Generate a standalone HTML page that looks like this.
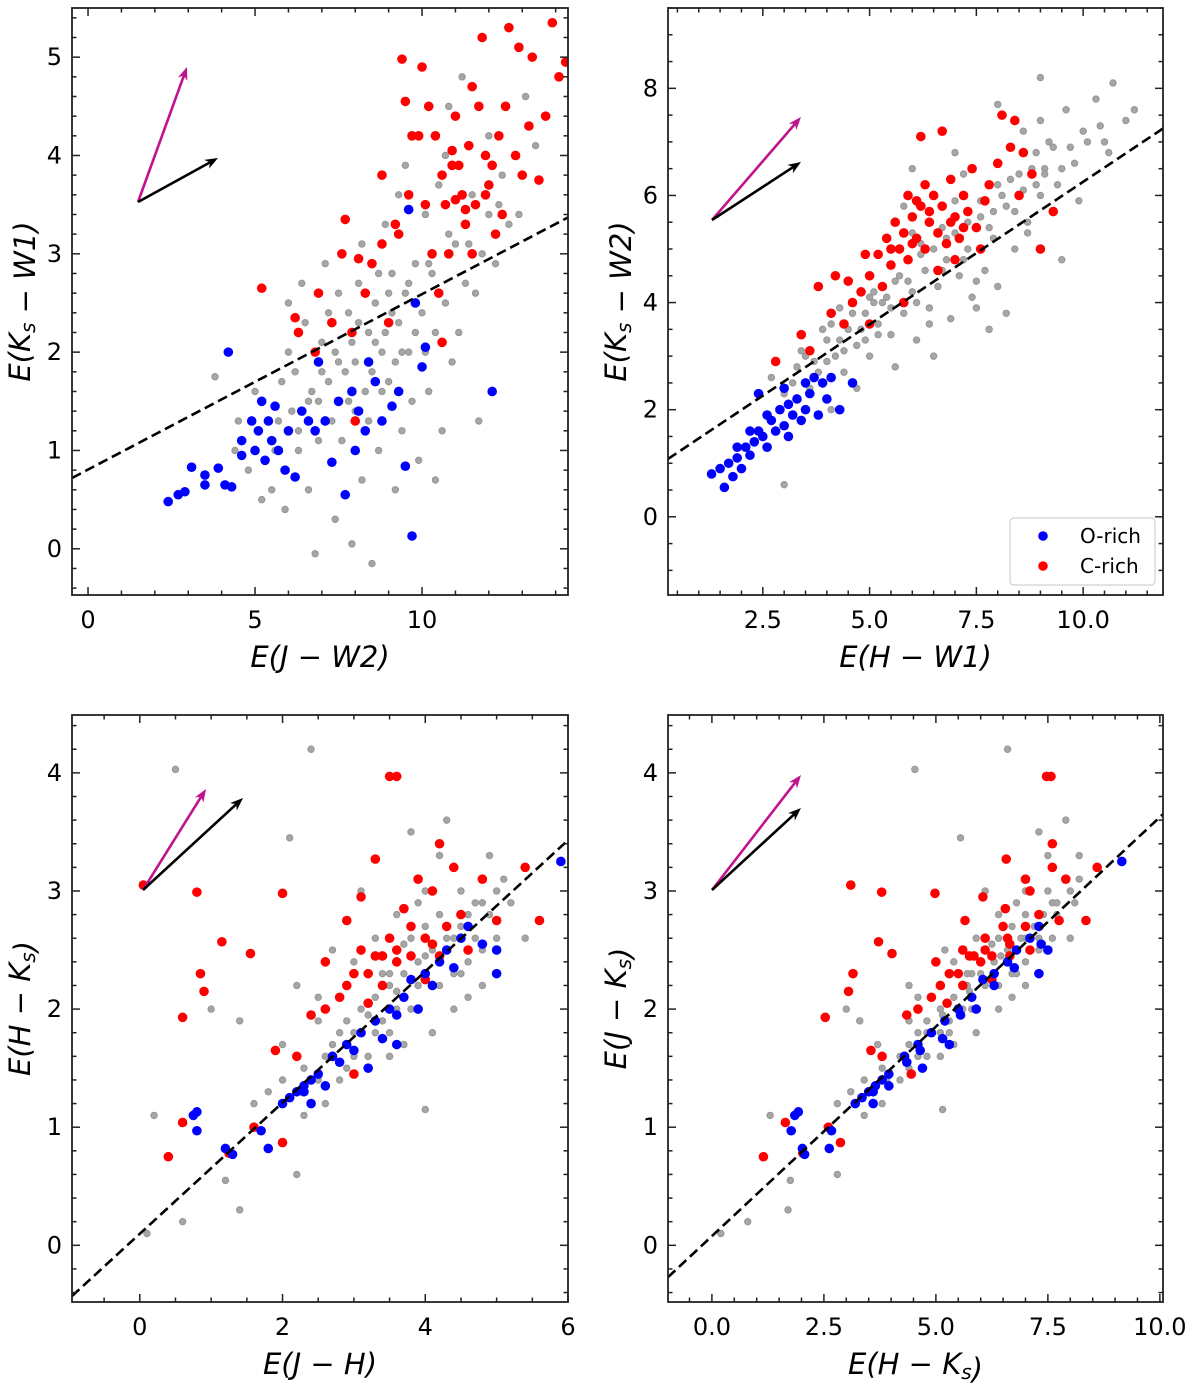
<!DOCTYPE html>
<html><head><meta charset="utf-8">
<style>
html,body{margin:0;padding:0;background:#fff;}
svg{display:block;font-family:"DejaVu Sans","Liberation Sans",sans-serif;}
</style></head>
<body>
<svg id="fig" width="1200" height="1385" viewBox="0 0 1200 1385" xmlns="http://www.w3.org/2000/svg"></svg>
<script>
// ---------- Panel 1 data: E(J-W2) vs E(Ks-W1) ----------
const p1BlueX=[2.4,2.7,2.9,3.1,3.5,3.5,3.9,4.1,4.3,4.2,4.6,4.6,4.9,5.0,5.1,5.2,5.3,5.5,5.6,5.7,5.9,6.0,6.2,6.4,6.6,6.9,7.1,7.3,7.5,7.7,7.9,8.1,8.3,8.6,8.8,9.1,9.3,9.5,9.6,9.7,9.8,10.0,10.1,12.1,8.4,5.4,6.8,8.0];
const p1BlueY=[0.48,0.55,0.58,0.83,0.75,0.65,0.82,0.65,0.63,2.0,1.1,0.95,1.3,1.0,1.2,1.5,0.9,1.1,1.45,1.0,0.8,1.2,0.73,1.4,1.3,1.9,1.3,0.88,1.5,0.55,1.6,1.4,1.2,1.7,1.3,1.45,1.6,0.84,3.45,0.13,2.5,1.85,2.05,1.6,1.9,1.3,1.2,1.0];
const p1RedX=[5.2,6.2,6.3,6.8,6.9,7.3,7.6,7.7,7.9,8.0,8.1,8.3,8.5,8.8,8.8,9.0,9.2,9.3,9.4,9.5,9.6,9.9,10.0,10.2,10.5,10.6,10.4,10.7,10.8,10.9,11.0,11.2,11.3,11.4,11.5,11.6,11.7,11.9,12.0,12.2,12.3,12.5,12.8,13.0,13.2,13.5,13.7,13.9,14.1,14.3,10.3,11.1,12.6,11.8,13.3,12.9,10.1,11.5,9.7,12.4,11.0,11.3,10.6,12.1,10.9,11.9];
const p1RedY=[2.65,2.35,2.2,2.0,2.6,2.3,3.0,3.35,2.2,1.3,2.95,2.6,2.9,3.1,3.8,2.3,3.3,3.2,4.98,4.55,3.6,4.2,4.9,4.5,2.6,2.1,4.2,3.5,3.0,3.9,4.4,3.6,3.3,4.1,4.7,3.5,4.5,4.0,3.7,3.2,4.2,4.5,4.0,3.8,4.3,3.75,4.4,5.35,4.8,4.95,3.0,3.9,5.3,5.2,5.0,5.1,3.5,3.0,4.2,3.4,3.55,3.45,3.8,3.9,4.05,3.6];
const p1GrayX=[3.8,4.5,4.8,5.0,5.5,5.8,5.9,6.0,6.2,6.3,6.5,6.6,6.8,6.9,7.0,7.2,7.4,7.5,7.6,7.8,7.9,8.0,8.1,8.2,8.3,8.4,8.5,8.6,8.7,8.8,8.9,9.0,9.1,9.2,9.3,9.4,9.5,9.6,9.7,9.8,9.9,10.0,10.1,10.2,10.3,10.4,10.5,10.6,10.7,10.8,10.9,11.0,11.1,11.2,11.3,11.5,11.7,11.8,12.0,12.2,12.4,12.6,12.9,13.1,13.4,7.3,7.7,8.4,9.0,6.4,5.2,4.4,6.6,8.2,10.4,11.6,9.3,10.7,12.0,8.7,7.1,5.7,
  6.1,6.7,7.0,7.4,7.8,8.1,8.5,8.9,9.2,9.5,9.8,6.3,6.9,7.5,8.0,8.6,9.1,9.6,10.1,5.6,6.0,7.2,7.9,8.3,8.8,9.4,10.2,10.8,11.4,12.3];
const p1GrayY=[1.75,1.3,0.8,1.6,0.6,1.7,0.4,2.5,1.8,1.0,2.3,0.6,-0.05,1.5,2.1,1.7,0.3,2.6,1.1,2.4,0.05,1.9,2.7,0.7,1.6,2.2,-0.15,2.5,1.0,2.0,3.3,1.7,2.8,0.6,2.3,1.2,3.9,2.0,1.5,2.9,0.9,2.4,3.4,1.6,2.8,0.7,3.7,1.2,2.5,4.5,1.9,3.1,2.2,4.8,2.7,3.6,1.3,3.0,4.2,2.9,3.8,3.3,3.4,4.6,4.1,1.3,1.8,1.3,2.6,2.7,0.5,1.0,1.5,3.1,2.2,2.6,3.6,4.0,3.4,2.8,2.9,1.3,
  1.4,1.6,1.8,2.0,1.5,2.3,1.8,2.2,1.9,2.6,2.2,1.2,1.1,1.9,1.4,2.1,2.4,2.7,2.0,1.0,2.0,2.4,2.1,2.6,1.6,2.0,2.9,3.2,3.1,3.5];

// ---------- Panel 2 data: E(H-W1) vs E(Ks-W2) ----------
const p2BlueX=[1.3,1.5,1.6,1.7,1.8,1.9,2.0,2.1,2.2,2.3,2.4,2.4,2.5,2.6,2.7,2.8,2.9,3.0,3.1,3.1,3.2,3.3,3.4,3.5,3.5,3.6,3.7,3.8,3.9,4.0,4.1,4.3,4.6,3.0,2.6,2.2,1.9];
const p2BlueY=[0.8,0.9,0.55,1.0,0.75,1.1,0.9,1.3,1.15,1.4,1.6,2.3,1.5,1.3,1.8,1.6,2.0,1.7,1.5,2.1,1.9,2.2,1.8,2.5,2.0,2.3,2.6,1.9,2.5,2.2,2.6,2.0,2.5,2.4,1.9,1.6,1.3];
const p2RedX=[2.8,3.4,3.6,3.8,4.1,4.2,4.4,4.6,4.8,5.0,5.0,5.2,5.3,5.4,5.5,5.6,5.7,5.8,5.9,6.0,6.1,6.2,6.2,6.3,6.4,6.5,6.6,6.7,6.7,6.8,6.9,7.0,7.1,7.2,7.3,7.4,7.5,7.6,7.8,8.0,8.1,8.3,8.4,8.5,8.6,8.8,9.0,9.3,5.9,4.9,5.8,6.6,7.7,4.5,6.3,7.0,6.0,6.4,6.9,5.5,7.2,6.1];
const p2RedY=[2.9,3.4,3.1,4.3,3.8,4.5,3.6,4.0,4.2,4.5,3.6,4.9,4.3,5.2,4.7,5.5,5.0,5.3,4.8,5.6,5.2,7.1,5.8,5.0,5.5,6.0,5.3,7.2,5.8,5.1,6.3,5.6,5.2,6.0,5.7,6.5,5.4,5.0,6.2,6.6,7.5,6.9,7.4,6.0,6.8,6.4,5.0,5.7,6.0,4.9,4.0,4.6,5.9,4.4,6.2,4.8,5.1,5.7,5.5,5.0,5.4,5.9];
const p2GrayX=[3.0,3.3,3.5,3.8,4.0,4.2,4.4,4.5,4.7,4.9,5.0,5.2,5.3,5.5,5.6,5.8,6.0,6.1,6.3,6.4,6.6,6.8,6.9,7.1,7.3,7.4,7.6,7.7,7.9,8.0,8.2,8.4,8.5,8.7,8.9,9.0,9.2,9.4,9.6,9.8,10.0,10.3,10.5,10.7,11.0,11.2,9.0,8.0,7.0,6.0,3.0,5.6,6.5,8.2,9.5,7.8,4.7,5.8,7.2,8.6,3.6,4.1,2.7,6.7,8.0,9.1,7.5,6.2,5.1,4.3,
  3.2,3.4,3.7,3.9,4.1,4.3,4.6,4.8,5.1,5.4,5.7,5.9,6.2,6.5,6.8,7.0,7.3,7.6,7.9,8.1,8.3,8.6,8.8,9.1,9.3,9.7,10.1,10.4,4.4,4.9,5.5,6.1,6.7,7.2,7.8,8.4,8.9,9.5,5.2,6.4,7.5,8.7,9.9,10.6,4.0,5.0,6.0,7.0,8.0,9.0];
const p2GrayY=[2.3,2.8,3.0,2.7,3.3,3.0,2.7,3.5,3.2,3.8,3.0,3.6,4.0,3.4,4.4,3.8,4.2,3.3,4.6,3.9,4.3,4.8,3.7,4.5,5.0,4.1,5.6,4.6,5.2,4.3,5.8,5.0,6.4,5.5,6.8,6.0,7.0,6.2,7.6,6.6,7.2,7.8,7.0,8.1,7.4,7.6,8.2,7.7,6.8,6.5,0.6,2.8,3.0,3.8,4.8,3.5,2.4,5.8,6.4,7.2,2.4,2.0,2.6,5.4,6.2,6.5,3.9,5.1,4.2,3.9,
  2.5,3.1,2.9,3.5,3.6,3.3,3.8,3.5,4.0,4.1,4.5,4.4,4.9,5.0,5.2,5.3,5.5,5.9,5.7,6.0,6.3,6.1,6.5,6.4,6.9,6.9,7.0,7.3,3.1,3.3,3.9,4.0,4.6,4.8,5.4,5.7,6.2,6.5,3.4,3.6,4.4,5.3,5.9,6.8,2.9,4.1,5.3,5.9,6.6,7.4];

// ---------- Panel 3 data: E(J-H) vs E(H-Ks) ----------
const p3BlueX=[0.75,0.8,0.8,1.2,1.3,1.7,1.8,2.0,2.1,2.2,2.3,2.4,2.4,2.5,2.6,2.7,2.8,2.9,3.0,3.1,3.2,3.3,3.4,3.5,3.6,3.7,3.8,3.9,4.0,4.1,4.2,4.3,4.4,4.5,4.6,4.8,5.0,5.0,5.9,3.6,2.3];
const p3BlueY=[1.1,1.13,0.97,0.82,0.77,0.97,0.82,1.2,1.25,1.3,1.35,1.4,1.2,1.45,1.35,1.6,1.55,1.7,1.65,1.8,1.5,1.9,1.75,2.0,1.95,2.1,2.25,2.0,2.3,2.2,2.4,2.5,2.35,2.6,2.7,2.55,2.5,2.3,3.25,1.7,1.3];
const p3RedX=[0.05,0.4,0.6,0.6,0.8,0.85,0.9,1.15,1.25,1.55,1.6,1.9,2.0,2.0,2.2,2.4,2.6,2.7,2.8,2.9,3.0,3.0,3.1,3.2,3.3,3.3,3.4,3.5,3.6,3.5,3.6,3.7,3.8,3.9,4.0,4.0,4.1,4.2,4.3,4.4,4.5,4.6,4.8,5.0,5.4,5.6,3.1,2.6,4.2,3.2,3.4,3.8,2.9,3.6,4.1];
const p3RedY=[3.05,0.75,1.93,1.04,2.99,2.3,2.15,2.57,0.78,2.47,1.0,1.65,2.98,0.87,1.6,1.95,2.4,1.6,2.1,2.75,2.3,1.45,2.5,2.05,3.27,2.45,2.2,3.97,3.97,2.6,2.4,2.85,2.45,3.1,2.6,2.25,3.0,3.4,2.7,3.2,2.8,2.5,3.1,2.75,3.2,2.75,2.95,2.0,2.45,2.3,2.45,2.7,2.2,2.5,2.55];
const p3GrayX=[0.1,0.6,1.4,0.2,0.5,2.1,1.0,1.4,1.8,2.0,2.2,2.3,2.4,2.5,2.6,2.7,2.8,2.9,3.0,3.1,3.2,3.3,3.4,3.5,3.6,3.7,3.8,3.9,4.0,4.1,4.2,4.3,4.4,4.5,4.6,4.7,4.8,4.9,5.0,5.2,5.4,4.0,3.0,2.5,3.5,4.4,3.9,1.2,2.0,4.6,3.3,2.7,4.2,3.6,4.8,5.1,1.6,2.2,3.8,2.9,
  2.3,2.6,2.9,3.1,3.3,3.5,3.7,3.9,4.1,4.3,4.5,4.7,4.9,2.8,3.2,3.6,4.0,4.4,4.8,3.4,3.8,4.2,4.6,5.0,2.5,3.0,3.5,4.0,4.5,3.7];
const p3GrayY=[0.1,0.2,0.3,1.1,4.03,3.45,2.0,1.9,1.3,1.7,2.2,1.1,4.2,1.9,1.2,2.5,1.4,2.2,1.8,3.0,1.6,2.6,1.9,2.3,2.8,1.7,2.6,2.2,3.0,1.8,2.8,3.6,2.0,3.0,2.4,2.9,2.2,3.3,2.6,2.9,2.6,1.15,2.4,2.1,1.6,2.6,2.9,0.55,1.4,2.1,1.8,1.7,3.3,2.0,2.9,3.1,1.2,0.6,3.5,1.5,
  1.5,1.6,1.9,2.0,2.1,2.2,2.3,2.4,2.5,2.6,2.7,2.6,2.8,1.8,1.95,2.15,2.45,2.3,2.5,2.3,2.0,2.2,2.8,3.0,1.4,1.6,1.8,2.7,2.3,2.55];

// ---------- Panel 4: E(H-Ks) vs E(J-Ks) — same stars, J-Ks = (J-H)+(H-Ks) ----------
const p4BlueX=p3BlueX.map((v,i)=>v+p3BlueY[i]), p4BlueY=p3BlueY;
const p4RedX=p3RedX.map((v,i)=>v+p3RedY[i]), p4RedY=p3RedY;
const p4GrayX=p3GrayX.map((v,i)=>v+p3GrayY[i]), p4GrayY=p3GrayY;

// tick labels
const p1XTicks=[0,5,10], p1YTicks=[0,1,2,3,4,5];
const p2XTicks=[2.5,5.0,7.5,10.0], p2YTicks=[0,2,4,6,8];
const p3XTicks=[0,2,4,6], p3YTicks=[0,1,2,3,4];
const p4XTicks=[0.0,2.5,5.0,7.5,10.0], p4YTicks=[0,1,2,3,4];

const NS="http://www.w3.org/2000/svg";
const svg=document.getElementById('fig');
function mk(tag,attrs,parent){const e=document.createElementNS(NS,tag);for(const k in attrs)e.setAttribute(k,attrs[k]);(parent||svg).appendChild(e);return e;}

function panel(o){
  const g=mk('g',{});
  
  
  const sx=v=>o.px0+(v-o.x0)/(o.x1-o.x0)*(o.px1-o.px0);
  const sy=v=>o.py1-(v-o.y0)/(o.y1-o.y0)*(o.py1-o.py0);
  const clip='c'+o.name;
  const cp=mk('clipPath',{id:clip},g);
  mk('rect',{x:o.px0,y:o.py0,width:o.px1-o.px0,height:o.py1-o.py0},cp);
  const pg=mk('g',{'clip-path':'url(#'+clip+')'},g);
  o.gx.forEach((v,i)=>{const c=mk('circle',{cx:sx(v),cy:sy(o.gy[i]),r:3.2,fill:'#a6a6a6',stroke:'#969696','stroke-width':1},pg);
    
    });
  o.rx.forEach((v,i)=>{const c=mk('circle',{cx:sx(v),cy:sy(o.ry[i]),r:4.8,fill:'#ff0000'},pg);
    
    });
  o.bx.forEach((v,i)=>{const c=mk('circle',{cx:sx(v),cy:sy(o.by[i]),r:4.8,fill:'#0000ff'},pg);
    
    });
  const ln=mk('line',{x1:sx(o.line[0]),y1:sy(o.line[1]),x2:sx(o.line[2]),y2:sy(o.line[3]),stroke:'#000','stroke-width':2.6,'stroke-dasharray':'10,5'},pg);
  
  
  const a=o.arrow;
  function arrow(x2,y2,col,nm){
    const ag=mk('g',{},g);
    
    
    const dx=x2-a[0],dy=y2-a[1],L=Math.hypot(dx,dy),ux=dx/L,uy=dy/L;
    const hl=13,hw=5;
    mk('line',{x1:a[0],y1:a[1],x2:x2-ux*hl*0.7,y2:y2-uy*hl*0.7,stroke:col,'stroke-width':2.6},ag);
    const bx=x2-ux*hl,by=y2-uy*hl;
    mk('polygon',{points:`${x2},${y2} ${bx-uy*hw},${by+ux*hw} ${x2-ux*hl*0.7},${y2-uy*hl*0.7} ${bx+uy*hw},${by-ux*hw}`,fill:col},ag);
  }
  arrow(a[2],a[3],'#c0138c','reddening-vector-magenta');
  arrow(a[4],a[5],'#000','reddening-vector-black');
  const fr=mk('rect',{x:o.px0,y:o.py0,width:o.px1-o.px0,height:o.py1-o.py0,fill:'none',stroke:'#222','stroke-width':1.8},g);
  
  
  function tick(x1,y1,x2,y2){mk('line',{x1,y1,x2,y2,stroke:'#222','stroke-width':1.5},g);}
  for(let v=Math.ceil(o.x0/o.xmin)*o.xmin;v<=o.x1+1e-9;v+=o.xmin){const X=sx(v);const maj=Math.abs(v/o.xmaj-Math.round(v/o.xmaj))<1e-6;const l=maj?8:4.5;tick(X,o.py1,X,o.py1-l);tick(X,o.py0,X,o.py0+l);}
  for(let v=Math.ceil(o.y0/o.ymin)*o.ymin;v<=o.y1+1e-9;v+=o.ymin){const Y=sy(v);const maj=Math.abs(v/o.ymaj-Math.round(v/o.ymaj))<1e-6;const l=maj?8:4.5;tick(o.px0,Y,o.px0+l,Y);tick(o.px1,Y,o.px1-l,Y);}
  o.xt.forEach(v=>{const t=mk('text',{x:sx(v),y:o.py1+33,'font-size':24,'text-anchor':'middle',fill:'#000'},g);t.textContent=o.xfmt?v.toFixed(1):String(v);
    
    });
  o.yt.forEach(v=>{const t=mk('text',{x:o.px0-10,y:sy(v)+8,'font-size':24,'text-anchor':'end',fill:'#000'},g);t.textContent=String(v);
    
    });
  const xl=mk('text',{x:(o.px0+o.px1)/2,y:o.py1+72,'font-size':29,'text-anchor':'middle','font-style':'italic',fill:'#000'},g);
  xl.innerHTML=o.xlab;
  
  
  const yc=(o.py0+o.py1)/2, yx=o.px0-o.ylabOff;
  const yl=mk('text',{x:yx,y:yc,'font-size':29,'text-anchor':'middle','font-style':'italic',fill:'#000',transform:`rotate(-90 ${yx} ${yc})`},g);
  yl.innerHTML=o.ylab;
  
  
  return {g,sx,sy};
}
const sub=s=>`<tspan font-size="20" dy="5">${s}</tspan><tspan dy="-5"></tspan>`;

panel({name:'panel-jw2-ksw1',px0:72,px1:568,py0:8,py1:595,x0:-0.48,x1:14.37,y0:-0.47,y1:5.5,xmaj:5,xmin:1,ymaj:1,ymin:0.2,
  gx:p1GrayX,gy:p1GrayY,rx:p1RedX,ry:p1RedY,bx:p1BlueX,by:p1BlueY,line:[-0.48,0.72,14.37,3.37],arrow:[138,202,187,67,218,158],
  xt:p1XTicks,yt:p1YTicks,xlab:'E(J − W2)',ylab:'E(K'+sub('s')+' − W1)',ylabOff:42});
panel({name:'panel-hw1-ksw2',px0:668,px1:1163,py0:8,py1:595,x0:0.28,x1:11.87,y0:-1.46,y1:9.5,xmaj:2.5,xmin:0.5,ymaj:2,ymin:0.5,
  gx:p2GrayX,gy:p2GrayY,rx:p2RedX,ry:p2RedY,bx:p2BlueX,by:p2BlueY,line:[0.28,1.08,11.87,7.25],arrow:[712,220,801,117,801,162],
  xt:p2XTicks,yt:p2YTicks,xfmt:true,xlab:'E(H − W1)',ylab:'E(K'+sub('s')+' − W2)',ylabOff:42});
panel({name:'panel-jh-hks',px0:72,px1:568,py0:715,py1:1302,x0:-0.95,x1:6.0,y0:-0.48,y1:4.49,xmaj:2,xmin:0.5,ymaj:1,ymin:0.2,
  gx:p3GrayX,gy:p3GrayY,rx:p3RedX,ry:p3RedY,bx:p3BlueX,by:p3BlueY,line:[-0.95,-0.43,6.0,3.43],arrow:[143,890,206,789,243,798],
  xt:p3XTicks,yt:p3YTicks,xlab:'E(J − H)',ylab:'E(H − K'+sub('s')+')',ylabOff:42});
panel({name:'panel-hks-jks',px0:668,px1:1163,py0:715,py1:1302,x0:-0.98,x1:10.07,y0:-0.48,y1:4.49,xmaj:2.5,xmin:0.5,ymaj:1,ymin:0.2,
  gx:p4GrayX,gy:p4GrayY,rx:p4RedX,ry:p4RedY,bx:p4BlueX,by:p4BlueY,line:[-0.98,-0.27,10.07,3.65],arrow:[712,890,801,775,801,808],
  xt:p4XTicks,yt:p4YTicks,xfmt:true,xlab:'E(H − K'+sub('s')+')',ylab:'E(J − K'+sub('s')+')',ylabOff:42});
</script>
<svg style="position:absolute;left:0;top:0" width="1200" height="1385">
  <g>
    <rect x="1010" y="518" width="145" height="67" rx="4" fill="#fff" stroke="#d0d0d0" stroke-width="1.2"/>
    <g>
      <circle cx="1043" cy="536" r="4.8" fill="#0000ff"/>
      <text x="1080" y="543" font-size="20" font-family="DejaVu Sans, Liberation Sans, sans-serif">O-rich</text>
    </g>
    <g>
      <circle cx="1043" cy="566" r="4.8" fill="#ff0000"/>
      <text x="1080" y="573" font-size="20" font-family="DejaVu Sans, Liberation Sans, sans-serif">C-rich</text>
    </g>
  </g>
</svg>
</body></html>
